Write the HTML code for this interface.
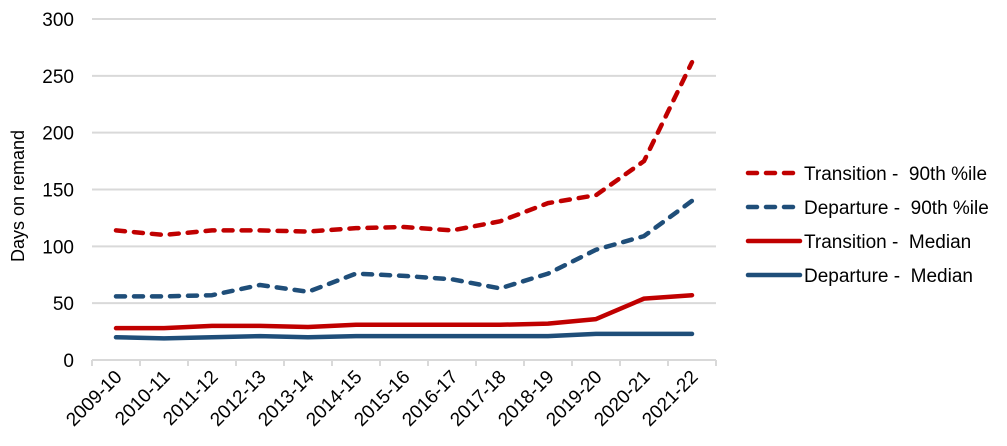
<!DOCTYPE html>
<html><head><meta charset="utf-8"><style>
body{margin:0;background:#fff;}
svg{display:block;font-family:"Liberation Sans",Arial,sans-serif;}
</style></head><body>
<svg id="chart" width="1007" height="446" viewBox="0 0 1007 446"></svg>
<script>
const categories=["2009-10","2010-11","2011-12","2012-13","2013-14","2014-15","2015-16","2016-17","2017-18","2018-19","2019-20","2020-21","2021-22"];
const transition90=[114,110,114,114,113,116,117,114,122,138,145,175,262];
const departure90=[56,56,57,66,60,76,74,71,63,76,97,109,140];
const transitionMedian=[28,28,30,30,29,31,31,31,31,32,36,54,57];
const departureMedian=[20,19,20,21,20,21,21,21,21,21,23,23,23];
const yTicks=[0,50,100,150,200,250,300];
const seriesNames=["Transition -  90th %ile","Departure -  90th %ile","Transition -  Median","Departure -  Median"];
const NS="http://www.w3.org/2000/svg";
const svg=document.getElementById('chart');
const X0=92,X1=716,Y0=360,Y1=19;
const band=(X1-X0)/categories.length;
const x=i=>X0+band*(i+0.5);
const y=v=>Y0-(v/300)*(Y0-Y1);
function mk(t,a){const e=document.createElementNS(NS,t);for(const k in a)e.setAttribute(k,a[k]);svg.appendChild(e);return e;}
yTicks.forEach(v=>{
  if(v>0){const g=mk('line',{x1:X0,x2:X1,y1:y(v),y2:y(v),stroke:'#d9d9d9','stroke-width':2});
  
  }
  const t=mk('text',{x:74,y:y(v)+7,'text-anchor':'end','font-size':19,fill:'#000'});t.textContent=v;
  
  
});
const ax=mk('line',{x1:X0,x2:X1,y1:Y0,y2:Y0,stroke:'#d9d9d9','stroke-width':2});


for(let i=0;i<=categories.length;i++){const tk=mk('line',{x1:X0+band*i,x2:X0+band*i,y1:Y0,y2:Y0+6,stroke:'#d9d9d9','stroke-width':2});

}
categories.forEach((c,i)=>{
  const t=mk('text',{x:x(i)+7,y:Y0+18,'text-anchor':'end','font-size':19,fill:'#000',transform:`rotate(-45 ${x(i)+7} ${Y0+18})`});t.textContent=c;
  
  
});
const yl=mk('text',{x:24,y:196,'text-anchor':'middle','font-size':18,fill:'#000',transform:'rotate(-90 24 196)'});yl.textContent='Days on remand';


const RED='#c00000',BLUE='#1f4e79';
const series=[[transition90,RED,true],[departure90,BLUE,true],[transitionMedian,RED,false],[departureMedian,BLUE,false]];
series.forEach((s,k)=>{
  const pts=s[0].map((v,i)=>x(i)+','+y(v)).join(' ');
  const p=mk('polyline',{points:pts,fill:'none',stroke:s[1],'stroke-width':4.5,'stroke-linejoin':'round','stroke-linecap':'round'});
  if(s[2])p.setAttribute('stroke-dasharray','9 9');
  
  
  const ly=173+34*k;
  const l=mk('line',{x1:748,x2:800,y1:ly,y2:ly,stroke:s[1],'stroke-width':4.5,'stroke-linecap':'round'});
  if(s[2])l.setAttribute('stroke-dasharray','9 9');
  
  
  const t=mk('text',{x:804,y:ly+7,'font-size':19,fill:'#000'});t.textContent=seriesNames[k];
  t.setAttribute('style','white-space:pre');
  
  
});
</script>
</body></html>
